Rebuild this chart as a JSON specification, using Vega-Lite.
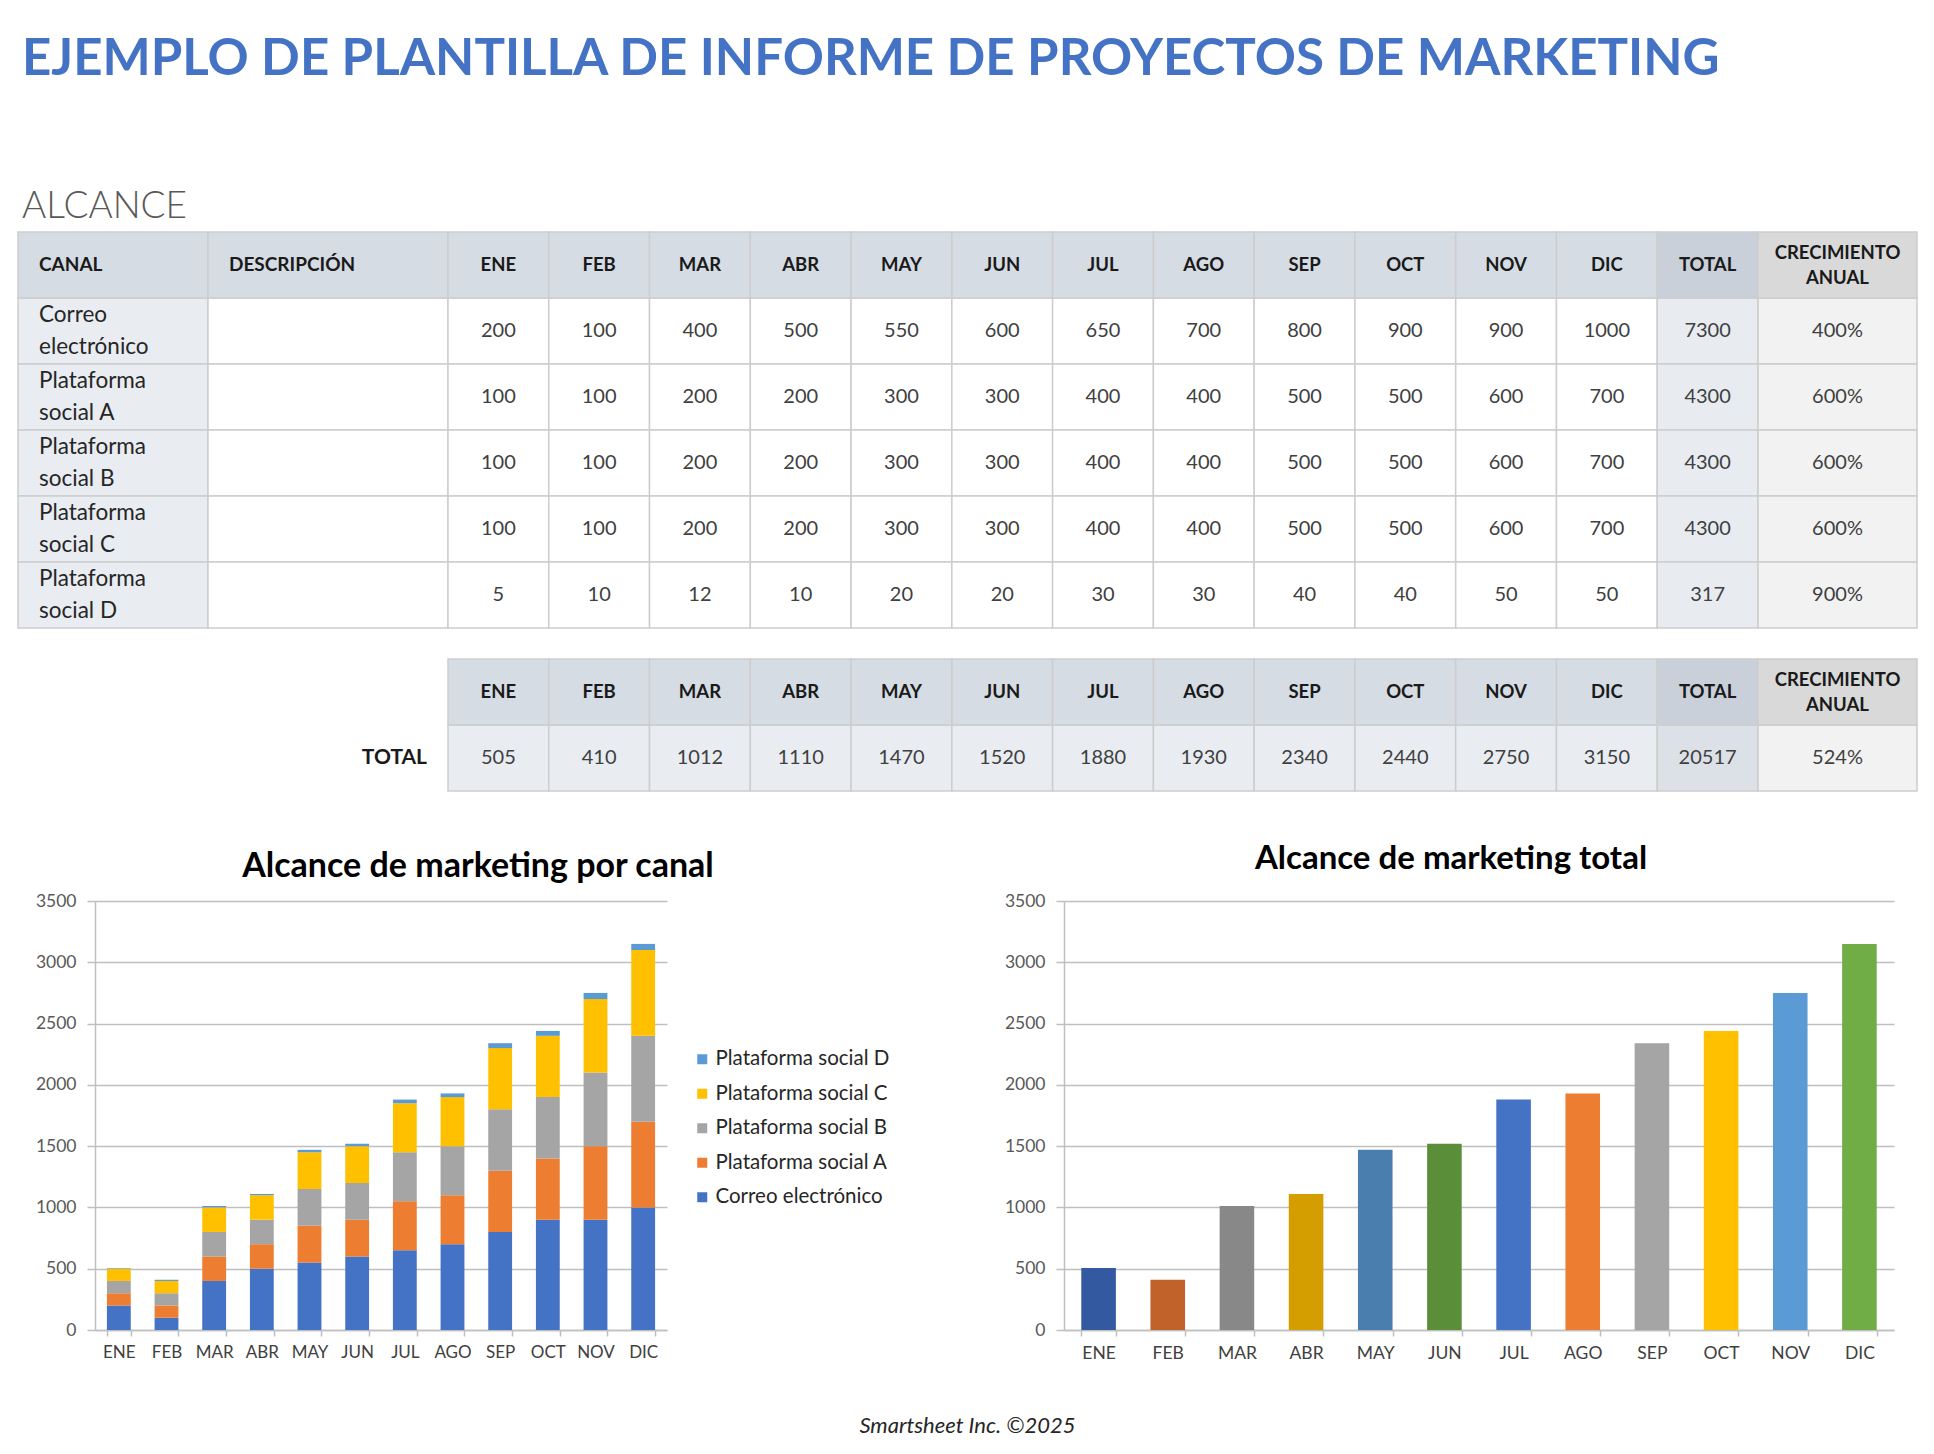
{
  "$schema": "https://vega.github.io/schema/vega-lite/v6.json",
  "background": "white",
  "padding": {"left": 17, "top": 34, "right": 0, "bottom": 0},
  "config": {
    "view": {"stroke": null},
    "font": "Lato",
    "title": {"font": "Lato"},
    "axis": {"labelFont": "Lato"},
    "legend": {"labelFont": "Lato"},
    "text": {"font": "Lato"}
  },
  "title": {
    "text": "EJEMPLO DE PLANTILLA DE INFORME DE PROYECTOS DE MARKETING",
    "subtitle": "ALCANCE",
    "anchor": "start",
    "frame": "group",
    "fontSize": 51,
    "fontWeight": "bold",
    "color": "#4472C4",
    "subtitleFont": "Lato",
    "subtitleFontSize": 37,
    "subtitleFontWeight": 300,
    "subtitleColor": "#595959",
    "subtitlePadding": 103,
    "offset": 5,
    "dx": 4
  },
  "datasets": {
    "canales": [
      {"canal": "Correo electrónico", "ENE": 200, "FEB": 100, "MAR": 400, "ABR": 500, "MAY": 550, "JUN": 600, "JUL": 650, "AGO": 700, "SEP": 800, "OCT": 900, "NOV": 900, "DIC": 1000, "TOTAL": 7300, "crecimiento": "400%"},
      {"canal": "Plataforma social A", "ENE": 100, "FEB": 100, "MAR": 200, "ABR": 200, "MAY": 300, "JUN": 300, "JUL": 400, "AGO": 400, "SEP": 500, "OCT": 500, "NOV": 600, "DIC": 700, "TOTAL": 4300, "crecimiento": "600%"},
      {"canal": "Plataforma social B", "ENE": 100, "FEB": 100, "MAR": 200, "ABR": 200, "MAY": 300, "JUN": 300, "JUL": 400, "AGO": 400, "SEP": 500, "OCT": 500, "NOV": 600, "DIC": 700, "TOTAL": 4300, "crecimiento": "600%"},
      {"canal": "Plataforma social C", "ENE": 100, "FEB": 100, "MAR": 200, "ABR": 200, "MAY": 300, "JUN": 300, "JUL": 400, "AGO": 400, "SEP": 500, "OCT": 500, "NOV": 600, "DIC": 700, "TOTAL": 4300, "crecimiento": "600%"},
      {"canal": "Plataforma social D", "ENE": 5, "FEB": 10, "MAR": 12, "ABR": 10, "MAY": 20, "JUN": 20, "JUL": 30, "AGO": 30, "SEP": 40, "OCT": 40, "NOV": 50, "DIC": 50, "TOTAL": 317, "crecimiento": "900%"}
    ],
    "totales": [
      {"fila": "total", "ENE": 505, "FEB": 410, "MAR": 1012, "ABR": 1110, "MAY": 1470, "JUN": 1520, "JUL": 1880, "AGO": 1930, "SEP": 2340, "OCT": 2440, "NOV": 2750, "DIC": 3150, "TOTAL": 20517, "crecimiento": "524%"}
    ],
    "columnas": [
      {"mes": "ENE"}, {"mes": "FEB"}, {"mes": "MAR"}, {"mes": "ABR"}, {"mes": "MAY"}, {"mes": "JUN"},
      {"mes": "JUL"}, {"mes": "AGO"}, {"mes": "SEP"}, {"mes": "OCT"}, {"mes": "NOV"}, {"mes": "DIC"}, {"mes": "TOTAL"}
    ]
  },
  "resolve": {"scale": {"color": "independent"}},
  "spacing": 51,
  "vconcat": [
    {
      "spacing": 29,
      "vconcat": [
        {
          "bounds": "flush",
          "spacing": 0,
          "hconcat": [
            {
              "width": 190,
              "height": 396,
              "layer": [
                {
                  "data": {"name": "canales"},
                  "transform": [{"calculate": "replace(datum.canal, ' ', '\\n')", "as": "etiqueta"}],
                  "layer": [
                    {"mark": {"type": "rect", "fill": "#E9EDF2", "stroke": "#CDCDCD", "strokeWidth": 1.5},
                     "encoding": {
                       "x": {"datum": "c", "type": "nominal", "axis": null, "scale": {"paddingInner": 0, "paddingOuter": 0}},
                       "y": {"field": "canal", "type": "nominal", "axis": null, "scale": {"domain": ["h", "Correo electrónico", "Plataforma social A", "Plataforma social B", "Plataforma social C", "Plataforma social D"], "paddingInner": 0, "paddingOuter": 0}}
                     }},
                    {"mark": {"type": "text", "align": "left", "baseline": "middle", "dx": -74, "dy": -16, "fontSize": 22.5, "lineHeight": 32, "lineBreak": "\n", "color": "#262626"},
                     "encoding": {
                       "x": {"datum": "c", "type": "nominal", "axis": null},
                       "y": {"field": "canal", "type": "nominal", "axis": null},
                       "text": {"field": "etiqueta"}
                     }}
                  ]
                },
                {
                  "data": {"values": [{"col": "CANAL"}]},
                  "layer": [
                    {"mark": {"type": "rect", "fill": "#D6DCE4", "stroke": "#CDCDCD", "strokeWidth": 1.5},
                     "encoding": {"x": {"datum": "c", "type": "nominal", "axis": null}, "y": {"datum": "h", "type": "nominal", "axis": null}}},
                    {"mark": {"type": "text", "align": "left", "baseline": "middle", "dx": -74, "fontSize": 19, "fontWeight": "bold", "color": "#1A1A1A"},
                     "encoding": {"x": {"datum": "c", "type": "nominal", "axis": null}, "y": {"datum": "h", "type": "nominal", "axis": null}, "text": {"field": "col"}}}
                  ]
                }
              ]
            },
            {
              "width": 240,
              "height": 396,
              "layer": [
                {
                  "data": {"name": "canales"},
                  "mark": {"type": "rect", "fill": "#FFFFFF", "stroke": "#CDCDCD", "strokeWidth": 1.5},
                  "encoding": {
                    "x": {"datum": "c", "type": "nominal", "axis": null, "scale": {"paddingInner": 0, "paddingOuter": 0}},
                    "y": {"field": "canal", "type": "nominal", "axis": null, "scale": {"domain": ["h", "Correo electrónico", "Plataforma social A", "Plataforma social B", "Plataforma social C", "Plataforma social D"], "paddingInner": 0, "paddingOuter": 0}}
                  }
                },
                {
                  "data": {"values": [{"col": "DESCRIPCIÓN"}]},
                  "layer": [
                    {"mark": {"type": "rect", "fill": "#D6DCE4", "stroke": "#CDCDCD", "strokeWidth": 1.5},
                     "encoding": {"x": {"datum": "c", "type": "nominal", "axis": null}, "y": {"datum": "h", "type": "nominal", "axis": null}}},
                    {"mark": {"type": "text", "align": "left", "baseline": "middle", "dx": -99, "fontSize": 19, "fontWeight": "bold", "color": "#1A1A1A"},
                     "encoding": {"x": {"datum": "c", "type": "nominal", "axis": null}, "y": {"datum": "h", "type": "nominal", "axis": null}, "text": {"field": "col"}}}
                  ]
                }
              ]
            },
            {
              "width": 1310,
              "height": 396,
              "layer": [
                {
                  "data": {"name": "canales"},
                  "transform": [{"fold": ["ENE", "FEB", "MAR", "ABR", "MAY", "JUN", "JUL", "AGO", "SEP", "OCT", "NOV", "DIC", "TOTAL"], "as": ["mes", "valor"]}],
                  "layer": [
                    {"mark": {"type": "rect", "stroke": "#CDCDCD", "strokeWidth": 1.5},
                     "encoding": {
                       "x": {"field": "mes", "type": "nominal", "axis": null, "scale": {"domain": ["ENE", "FEB", "MAR", "ABR", "MAY", "JUN", "JUL", "AGO", "SEP", "OCT", "NOV", "DIC", "TOTAL"], "paddingInner": 0, "paddingOuter": 0}},
                       "y": {"field": "canal", "type": "nominal", "axis": null, "scale": {"domain": ["h", "Correo electrónico", "Plataforma social A", "Plataforma social B", "Plataforma social C", "Plataforma social D"], "paddingInner": 0, "paddingOuter": 0}},
                       "fill": {"condition": {"test": "datum.mes === 'TOTAL'", "value": "#E8ECF1"}, "value": "#FFFFFF"}
                     }},
                    {"mark": {"type": "text", "baseline": "middle", "fontSize": 20, "color": "#404040"},
                     "encoding": {
                       "x": {"field": "mes", "type": "nominal", "axis": null},
                       "y": {"field": "canal", "type": "nominal", "axis": null},
                       "text": {"field": "valor", "type": "nominal"}
                     }}
                  ]
                },
                {
                  "data": {"name": "columnas"},
                  "layer": [
                    {"mark": {"type": "rect", "stroke": "#CDCDCD", "strokeWidth": 1.5},
                     "encoding": {
                       "x": {"field": "mes", "type": "nominal", "axis": null},
                       "y": {"datum": "h", "type": "nominal", "axis": null},
                       "fill": {"condition": {"test": "datum.mes === 'TOTAL'", "value": "#C9D0D9"}, "value": "#D6DCE4"}
                     }},
                    {"mark": {"type": "text", "baseline": "middle", "fontSize": 18.5, "fontWeight": "bold", "color": "#1A1A1A"},
                     "encoding": {"x": {"field": "mes", "type": "nominal", "axis": null}, "y": {"datum": "h", "type": "nominal", "axis": null}, "text": {"field": "mes"}}}
                  ]
                }
              ]
            },
            {
              "width": 159,
              "height": 396,
              "layer": [
                {
                  "data": {"name": "canales"},
                  "layer": [
                    {"mark": {"type": "rect", "fill": "#F2F2F2", "stroke": "#CDCDCD", "strokeWidth": 1.5},
                     "encoding": {
                       "x": {"datum": "c", "type": "nominal", "axis": null, "scale": {"paddingInner": 0, "paddingOuter": 0}},
                       "y": {"field": "canal", "type": "nominal", "axis": null, "scale": {"domain": ["h", "Correo electrónico", "Plataforma social A", "Plataforma social B", "Plataforma social C", "Plataforma social D"], "paddingInner": 0, "paddingOuter": 0}}
                     }},
                    {"mark": {"type": "text", "baseline": "middle", "fontSize": 20, "color": "#404040"},
                     "encoding": {"x": {"datum": "c", "type": "nominal", "axis": null}, "y": {"field": "canal", "type": "nominal", "axis": null}, "text": {"field": "crecimiento"}}}
                  ]
                },
                {
                  "data": {"values": [{"col": "CRECIMIENTO ANUAL"}]},
                  "layer": [
                    {"mark": {"type": "rect", "fill": "#D9D9D9", "stroke": "#CDCDCD", "strokeWidth": 1.5},
                     "encoding": {"x": {"datum": "c", "type": "nominal", "axis": null}, "y": {"datum": "h", "type": "nominal", "axis": null}}},
                    {"mark": {"type": "text", "baseline": "middle", "dy": -12.5, "fontSize": 18.5, "fontWeight": "bold", "lineBreak": " ", "lineHeight": 25, "color": "#1A1A1A"},
                     "encoding": {"x": {"datum": "c", "type": "nominal", "axis": null}, "y": {"datum": "h", "type": "nominal", "axis": null}, "text": {"field": "col"}}}
                  ]
                }
              ]
            }
          ]
        },
        {
          "bounds": "flush",
          "spacing": 0,
          "hconcat": [
            {
              "width": 430,
              "height": 132,
              "data": {"values": [{"fila": "total", "t": "TOTAL"}]},
              "mark": {"type": "text", "align": "right", "baseline": "middle", "dx": 194, "fontSize": 21, "fontWeight": "bold", "color": "#1A1A1A"},
              "encoding": {
                "x": {"datum": "c", "type": "nominal", "axis": null, "scale": {"paddingInner": 0, "paddingOuter": 0}},
                "y": {"field": "fila", "type": "nominal", "axis": null, "scale": {"domain": ["h", "total"], "paddingInner": 0, "paddingOuter": 0}},
                "text": {"field": "t"}
              }
            },
            {
              "width": 1310,
              "height": 132,
              "layer": [
                {
                  "data": {"name": "totales"},
                  "transform": [{"fold": ["ENE", "FEB", "MAR", "ABR", "MAY", "JUN", "JUL", "AGO", "SEP", "OCT", "NOV", "DIC", "TOTAL"], "as": ["mes", "valor"]}],
                  "layer": [
                    {"mark": {"type": "rect", "stroke": "#CDCDCD", "strokeWidth": 1.5},
                     "encoding": {
                       "x": {"field": "mes", "type": "nominal", "axis": null, "scale": {"domain": ["ENE", "FEB", "MAR", "ABR", "MAY", "JUN", "JUL", "AGO", "SEP", "OCT", "NOV", "DIC", "TOTAL"], "paddingInner": 0, "paddingOuter": 0}},
                       "y": {"field": "fila", "type": "nominal", "axis": null, "scale": {"domain": ["h", "total"], "paddingInner": 0, "paddingOuter": 0}},
                       "fill": {"condition": {"test": "datum.mes === 'TOTAL'", "value": "#DCE1E8"}, "value": "#E9EDF2"}
                     }},
                    {"mark": {"type": "text", "baseline": "middle", "fontSize": 20, "color": "#404040"},
                     "encoding": {"x": {"field": "mes", "type": "nominal", "axis": null}, "y": {"field": "fila", "type": "nominal", "axis": null}, "text": {"field": "valor", "type": "nominal"}}}
                  ]
                },
                {
                  "data": {"name": "columnas"},
                  "layer": [
                    {"mark": {"type": "rect", "stroke": "#CDCDCD", "strokeWidth": 1.5},
                     "encoding": {
                       "x": {"field": "mes", "type": "nominal", "axis": null},
                       "y": {"datum": "h", "type": "nominal", "axis": null},
                       "fill": {"condition": {"test": "datum.mes === 'TOTAL'", "value": "#C9D0D9"}, "value": "#D6DCE4"}
                     }},
                    {"mark": {"type": "text", "baseline": "middle", "fontSize": 18.5, "fontWeight": "bold", "color": "#1A1A1A"},
                     "encoding": {"x": {"field": "mes", "type": "nominal", "axis": null}, "y": {"datum": "h", "type": "nominal", "axis": null}, "text": {"field": "mes"}}}
                  ]
                }
              ]
            },
            {
              "width": 159,
              "height": 132,
              "layer": [
                {
                  "data": {"name": "totales"},
                  "layer": [
                    {"mark": {"type": "rect", "fill": "#F2F2F2", "stroke": "#CDCDCD", "strokeWidth": 1.5},
                     "encoding": {
                       "x": {"datum": "c", "type": "nominal", "axis": null, "scale": {"paddingInner": 0, "paddingOuter": 0}},
                       "y": {"field": "fila", "type": "nominal", "axis": null, "scale": {"domain": ["h", "total"], "paddingInner": 0, "paddingOuter": 0}}
                     }},
                    {"mark": {"type": "text", "baseline": "middle", "fontSize": 20, "color": "#404040"},
                     "encoding": {"x": {"datum": "c", "type": "nominal", "axis": null}, "y": {"field": "fila", "type": "nominal", "axis": null}, "text": {"field": "crecimiento"}}}
                  ]
                },
                {
                  "data": {"values": [{"col": "CRECIMIENTO ANUAL"}]},
                  "layer": [
                    {"mark": {"type": "rect", "fill": "#D9D9D9", "stroke": "#CDCDCD", "strokeWidth": 1.5},
                     "encoding": {"x": {"datum": "c", "type": "nominal", "axis": null}, "y": {"datum": "h", "type": "nominal", "axis": null}}},
                    {"mark": {"type": "text", "baseline": "middle", "dy": -12.5, "fontSize": 18.5, "fontWeight": "bold", "lineBreak": " ", "lineHeight": 25, "color": "#1A1A1A"},
                     "encoding": {"x": {"datum": "c", "type": "nominal", "axis": null}, "y": {"datum": "h", "type": "nominal", "axis": null}, "text": {"field": "col"}}}
                  ]
                }
              ]
            }
          ]
        }
      ]
    },
    {
      "spacing": 53,
      "resolve": {"scale": {"color": "independent"}},
      "vconcat": [
        {
          "bounds": "flush",
          "spacing": 0,
          "resolve": {"scale": {"color": "independent"}},
          "hconcat": [
            {
              "width": 77,
              "height": 429,
              "data": {"values": []},
              "mark": "text"
            },
            {
              "bounds": "flush",
              "spacing": 397,
              "resolve": {"scale": {"color": "independent"}},
              "hconcat": [
                {
                  "width": 572,
                  "height": 429,
                  "data": {"name": "canales"},
                  "transform": [{"fold": ["ENE", "FEB", "MAR", "ABR", "MAY", "JUN", "JUL", "AGO", "SEP", "OCT", "NOV", "DIC"], "as": ["mes", "valor"]}],
                  "title": {"text": "Alcance de marketing por canal", "fontSize": 34, "fontWeight": "bold", "color": "#000000", "anchor": "middle", "dx": 97, "offset": 8},
                  "mark": {"type": "bar"},
                  "encoding": {
                    "x": {"field": "mes", "type": "nominal", "sort": ["ENE", "FEB", "MAR", "ABR", "MAY", "JUN", "JUL", "AGO", "SEP", "OCT", "NOV", "DIC"],
                          "scale": {"paddingInner": 0.5, "paddingOuter": 0.25},
                          "axis": {"title": null, "labelAngle": 0, "tickBand": "extent", "tickSize": 6, "tickWidth": 1.5, "tickColor": "#BFBFBF", "domainColor": "#BFBFBF", "domainWidth": 1.5, "labelFontSize": 17, "labelColor": "#404040", "labelPadding": 8}},
                    "y": {"field": "valor", "type": "quantitative", "stack": "zero", "scale": {"domain": [0, 3500]},
                          "axis": {"title": null, "format": "d", "values": [0, 500, 1000, 1500, 2000, 2500, 3000, 3500], "grid": true, "gridColor": "#BFBFBF", "gridWidth": 1.5, "domainColor": "#BFBFBF", "domainWidth": 1.5, "tickColor": "#BFBFBF", "tickSize": 8, "tickWidth": 1.5, "labelFontSize": 17.5, "labelColor": "#595959", "labelPadding": 11}},
                    "color": {"field": "canal", "type": "nominal",
                              "scale": {"domain": ["Plataforma social D", "Plataforma social C", "Plataforma social B", "Plataforma social A", "Correo electrónico"], "range": ["#5B9BD5", "#FFC000", "#A5A5A5", "#ED7D31", "#4472C4"]},
                              "legend": {"title": null, "orient": "none", "legendX": 597, "legendY": 148, "symbolType": "square", "symbolSize": 100, "symbolStrokeWidth": 0, "labelFontSize": 20.5, "labelLimit": 400, "labelColor": "#262626", "rowPadding": 13.5, "labelOffset": 3}},
                    "order": {"field": "canal", "sort": "ascending"}
                  }
                },
                {
                  "width": 830,
                  "height": 429,
                  "data": {"name": "totales"},
                  "transform": [{"fold": ["ENE", "FEB", "MAR", "ABR", "MAY", "JUN", "JUL", "AGO", "SEP", "OCT", "NOV", "DIC"], "as": ["mes", "valor"]}],
                  "title": {"text": "Alcance de marketing total", "fontSize": 33, "fontWeight": "bold", "color": "#000000", "anchor": "middle", "dx": -28, "offset": 16},
                  "mark": {"type": "bar"},
                  "encoding": {
                    "x": {"field": "mes", "type": "nominal", "sort": ["ENE", "FEB", "MAR", "ABR", "MAY", "JUN", "JUL", "AGO", "SEP", "OCT", "NOV", "DIC"],
                          "scale": {"paddingInner": 0.5, "paddingOuter": 0.25},
                          "axis": {"title": null, "labelAngle": 0, "tickBand": "extent", "tickSize": 6, "tickWidth": 1.5, "tickColor": "#BFBFBF", "domainColor": "#BFBFBF", "domainWidth": 1.5, "labelFontSize": 17.5, "labelColor": "#404040", "labelPadding": 8}},
                    "y": {"field": "valor", "type": "quantitative", "scale": {"domain": [0, 3500]},
                          "axis": {"title": null, "format": "d", "values": [0, 500, 1000, 1500, 2000, 2500, 3000, 3500], "grid": true, "gridColor": "#BFBFBF", "gridWidth": 1.5, "domainColor": "#BFBFBF", "domainWidth": 1.5, "tickColor": "#BFBFBF", "tickSize": 8, "tickWidth": 1.5, "labelFontSize": 17.5, "labelColor": "#595959", "labelPadding": 11}},
                    "color": {"field": "mes", "type": "nominal",
                              "scale": {"domain": ["ENE", "FEB", "MAR", "ABR", "MAY", "JUN", "JUL", "AGO", "SEP", "OCT", "NOV", "DIC"], "range": ["#335AA1", "#C0622A", "#888888", "#D49E00", "#4A7EAE", "#5A8E39", "#4472C4", "#ED7D31", "#A5A5A5", "#FFC000", "#5B9BD5", "#70AD47"]},
                              "legend": null}
                  }
                }
              ]
            }
          ]
        },
        {
          "width": 1899,
          "height": 20,
          "data": {"values": [{"t": "Smartsheet Inc. ©2025"}]},
          "mark": {"type": "text", "fontSize": 22, "fontStyle": "italic", "color": "#262626", "baseline": "middle"},
          "encoding": {
            "x": {"datum": "f", "type": "nominal", "axis": null},
            "y": {"datum": "f", "type": "nominal", "axis": null},
            "text": {"field": "t"}
          }
        }
      ]
    }
  ]
}
